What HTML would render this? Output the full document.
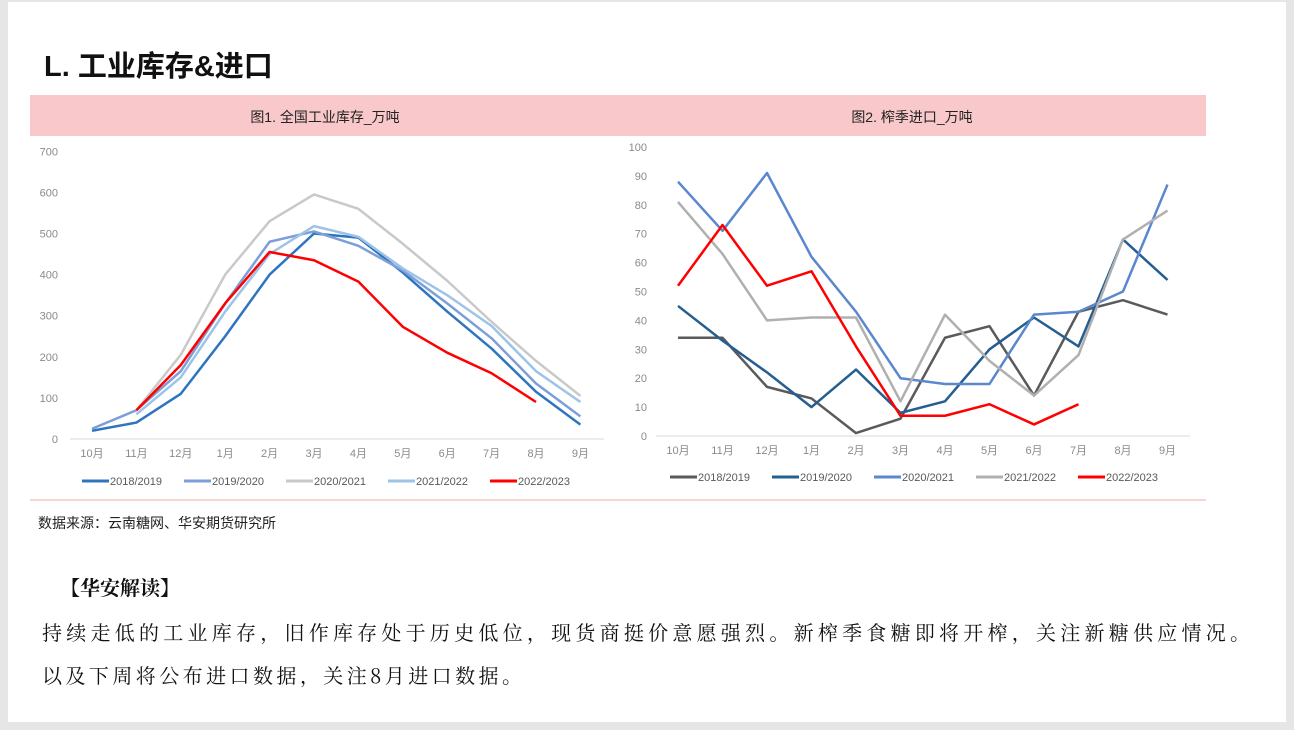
<!DOCTYPE html>
<html><head><meta charset="utf-8"><style>
html,body{margin:0;padding:0;background:#fff;}
body{width:1294px;height:730px;overflow:hidden;position:relative;font-family:"Liberation Sans","Noto Sans CJK SC",sans-serif;}
</style></head><body>
<svg id="s" width="1294" height="730" xmlns="http://www.w3.org/2000/svg" style="position:absolute;left:0;top:0">
<rect x="0" y="0" width="1294" height="730" fill="#e6e6e6"/>
<rect x="8" y="2" width="1278" height="720" fill="#fff"/>
<text x="44" y="76" font-size="29" font-weight="bold" fill="#111" font-family="Liberation Sans,Noto Sans CJK SC,sans-serif">L. 工业库存&amp;进口</text>
<rect x="30" y="95" width="1176" height="41" fill="#f8c8ca"/>
<text x="325" y="122" font-size="14" text-anchor="middle" fill="#222">图1. 全国工业库存_万吨</text>
<text x="912" y="122" font-size="14" text-anchor="middle" fill="#222">图2. 榨季进口_万吨</text>
<line x1="30" y1="500" x2="1206" y2="500" stroke="#f5c4c6" stroke-width="1.5"/>
<text x="38" y="528" font-size="14" fill="#222">数据来源：云南糖网、华安期货研究所</text>
<text x="60" y="595" font-size="20" font-weight="bold" fill="#111" font-family="Noto Serif CJK SC,serif">【华安解读】</text>
<text x="42" y="640" font-size="20" fill="#111" font-family="Noto Serif CJK SC,serif" textLength="1208" lengthAdjust="spacing">持续走低的工业库存，旧作库存处于历史低位，现货商挺价意愿强烈。新榨季食糖即将开榨，关注新糖供应情况。</text>
<text x="42" y="683" font-size="20" fill="#111" font-family="Noto Serif CJK SC,serif" textLength="480" lengthAdjust="spacing">以及下周将公布进口数据，关注8月进口数据。</text>
<g id="g"></g>
</svg>
<script>
var g=document.getElementById('g'),NS='http://www.w3.org/2000/svg';
function el(t,a,txt){var e=document.createElementNS(NS,t);for(var k in a)e.setAttribute(k,a[k]);if(txt!=null)e.textContent=txt;g.appendChild(e);return e;}
var months=['10月','11月','12月','1月','2月','3月','4月','5月','6月','7月','8月','9月'];
function chart(c){
 el('line',{x1:c.ax0,y1:c.y0,x2:c.ax1,y2:c.y0,stroke:'#d9d9d9','stroke-width':1});
 for(var i=0;i<=c.nt;i++){var v=i*c.tstep;el('text',{x:c.lx,y:c.y0-v*c.sc+4,'font-size':11,fill:'#8a8a8a','text-anchor':'end'},v);}
 for(var i=0;i<12;i++)el('text',{x:c.x0+i*c.dx,y:c.y0+18,'font-size':11,fill:'#8a8a8a','text-anchor':'middle'},months[i]);
 c.series.forEach(function(s){var p=[];s.d.forEach(function(v,i){if(v!=null)p.push((c.x0+i*c.dx)+','+(c.y0-v*c.sc));});
  el('polyline',{points:p.join(' '),fill:'none',stroke:s.c,'stroke-width':s.w||2.5,'stroke-linejoin':'round'});});
 c.series.forEach(function(s,i){var x=c.lg[i];el('line',{x1:x,y1:c.ly,x2:x+27,y2:c.ly,stroke:s.c,'stroke-width':3});
  el('text',{x:x+28,y:c.ly+4,'font-size':11,fill:'#595959'},s.n);});
}
chart({ax0:70,ax1:604,y0:439,x0:92,dx:44.4,sc:41.1/100,nt:7,tstep:100,lx:58,ly:481,lg:[82,184,286,388,490],
series:[
{n:'2018/2019',c:'#2e75c0',d:[20,40,110,250,400,500,490,405,310,220,115,35]},
{n:'2019/2020',c:'#7d9fd9',d:[25,70,165,330,480,505,470,410,330,245,135,55]},
{n:'2020/2021',c:'#c9c9c9',d:[null,70,205,400,530,595,560,475,385,285,190,105]},
{n:'2021/2022',c:'#9dc3e6',d:[null,60,150,310,450,518,492,415,350,275,165,90]},
{n:'2022/2023',c:'#ff0000',d:[null,70,180,330,455,435,383,273,210,160,90]}]});
chart({ax0:656,ax1:1190,y0:436,x0:678,dx:44.5,sc:28.9/10,nt:10,tstep:10,lx:647,ly:477,lg:[670,772,874,976,1078],
series:[
{n:'2018/2019',c:'#5a5a5a',d:[34,34,17,13,1,6,34,38,14,43,47,42]},
{n:'2019/2020',c:'#255e91',d:[45,33,22,10,23,8,12,30,41,31,68,54]},
{n:'2020/2021',c:'#5b87cf',d:[88,71,91,62,43,20,18,18,42,43,50,87]},
{n:'2021/2022',c:'#b0b0b0',d:[81,63,40,41,41,12,42,26,14,28,68,78]},
{n:'2022/2023',c:'#ff0000',d:[52,73,52,57,31,7,7,11,4,11]}]});
</script>
</body></html>
